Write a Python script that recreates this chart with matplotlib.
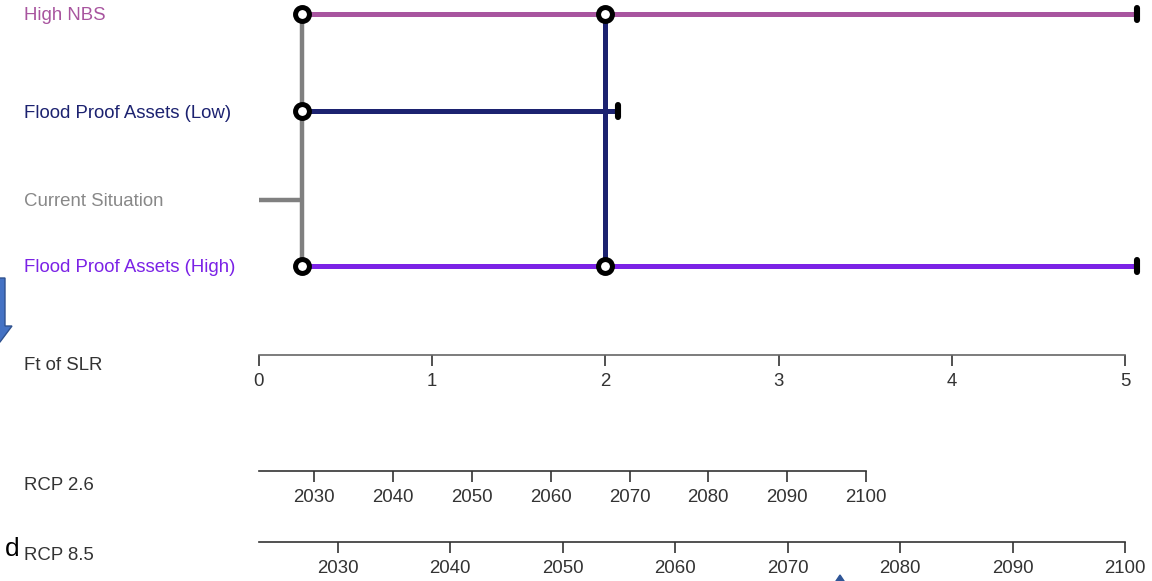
import matplotlib
matplotlib.use('Agg')
import matplotlib.pyplot as plt
from matplotlib.markers import MarkerStyle
from matplotlib.patches import Polygon

# --- data -------------------------------------------------------------
options = ["High NBS", "Flood Proof Assets (Low)", "Current Situation",
           "Flood Proof Assets (High)"]
option_colors = ["#a8559f", "#1c2270", "#808080", "#7b22e6"]
option_start = [0.25, 0.25, 0.0, 0.25]     # ft of SLR
option_end = [5.07, 2.07, 0.25, 5.07]      # ft of SLR (sell-by point)
option_terminal = [True, True, False, True]

# transfers: (ft of SLR, from option, [to options])
transfers = [
    (0.25, "Current Situation", ["High NBS", "Flood Proof Assets (Low)",
                                 "Flood Proof Assets (High)"]),
    (2.0, "Flood Proof Assets (Low)", ["High NBS", "Flood Proof Assets (High)"]),
]

slr_ticks = [0, 1, 2, 3, 4, 5]
rcp26_years = [2030, 2040, 2050, 2060, 2070, 2080, 2090, 2100]
rcp85_years = [2030, 2040, 2050, 2060, 2070, 2080, 2090, 2100]
axis_labels = ["Ft of SLR", "RCP 2.6", "RCP 8.5"]

# --- layout (pixels) -------------------------------------------------
W, H = 1152, 581
row_px = [14, 111, 200, 266]
x0_px, x5_px = 259, 1125
px_per_ft = (x5_px - x0_px) / 5.0
label_x = 24
scale_rows = [355, 471, 542]
label_rows = [366, 485, 555]

plt.rcParams['font.family'] = ['Liberation Sans', 'DejaVu Sans']
fs = 13.4

fig = plt.figure(figsize=(W / 100, H / 100), dpi=100)
ax = fig.add_axes([0, 0, 1, 1])
ax.set_xlim(-x0_px / px_per_ft, (W - x0_px) / px_per_ft)
ax.set_ylim(H, 0)
ax.axis('off')

row_of = dict(zip(options, row_px))

# horizontal option lines
for name, c, s, e in zip(options, option_colors, option_start, option_end):
    lw = 3.2 if name == "Current Situation" else 3.6
    ax.plot([s, e], [row_of[name]] * 2, color=c, lw=lw,
            solid_capstyle='butt', zorder=2)

# transfer verticals
for ft, src, targets in transfers:
    ys = [row_of[t] for t in targets] + [row_of[src]]
    c = option_colors[options.index(src)]
    lw = 3.2 if src == "Current Situation" else 3.6
    ax.plot([ft, ft], [min(ys), max(ys)], color=c, lw=lw,
            solid_capstyle='butt', zorder=3)
    ax.plot([ft] * len(targets), [row_of[t] for t in targets], 'o',
            ms=10, mfc='white', mec='black', mew=3.6, zorder=5)

# terminal markers
bar = MarkerStyle('|', capstyle='round')
for name, e, term in zip(options, option_end, option_terminal):
    if term:
        ax.plot([e], [row_of[name]], marker=bar, ms=8.6, mew=4.4,
                color='black', zorder=6)

# option labels
for name, c, y in zip(options, option_colors, row_px):
    tc = "#888888" if name == "Current Situation" else c
    fig.text(label_x / W, 1 - (y + 2) / H, name, color=tc, fontsize=fs,
             ha='left', va='center')

# scale axes
def scale_axis(y_px, right_px, lo, hi, ticks, spine_c):
    a = fig.add_axes([x0_px / W, 1 - y_px / H, (right_px - x0_px) / W, 0.0005])
    a.set_xlim(lo, hi)
    a.set_xticks(ticks)
    a.set_xticklabels([str(t) for t in ticks])
    a.set_yticks([])
    for sp in ['top', 'left', 'right']:
        a.spines[sp].set_visible(False)
    a.spines['bottom'].set_color(spine_c)
    a.spines['bottom'].set_linewidth(1.2)
    a.tick_params(axis='x', direction='out', length=8, width=1.2,
                  color='#333333', labelcolor='#333333', labelsize=fs, pad=5)
    a.patch.set_alpha(0)
    return a

scale_axis(scale_rows[0], x5_px, 0, 5, slr_ticks, '#666666')
scale_axis(scale_rows[1], 866, 2023, 2100, rcp26_years, '#333333')
scale_axis(scale_rows[2], x5_px, 2023, 2100, rcp85_years, '#333333')

for lab, y in zip(axis_labels, label_rows):
    fig.text(label_x / W, 1 - y / H, lab, color='#333333', fontsize=fs,
             ha='left', va='center')

# slide leftovers: blue arrows and a stray letter
def px(x, y):
    return (x / W, 1 - y / H)

arrow = Polygon([px(-2, 278), px(5, 278), px(5, 326), px(12, 326),
                 px(0, 342), px(-2, 342)], closed=True,
                facecolor='#4472c4', edgecolor='#2f528f', lw=1,
                transform=fig.transFigure)
fig.patches.append(arrow)
tri = Polygon([px(834, 584), px(846, 584), px(840, 575)], closed=True,
              facecolor='#2f5597', edgecolor='#2f5597',
              transform=fig.transFigure)
fig.patches.append(tri)
fig.text(19 / W, 1 - 556 / H, "d", fontsize=19, color='black',
         ha='right', va='baseline')

fig.savefig('out.png', dpi=100)
plt.close(fig)
